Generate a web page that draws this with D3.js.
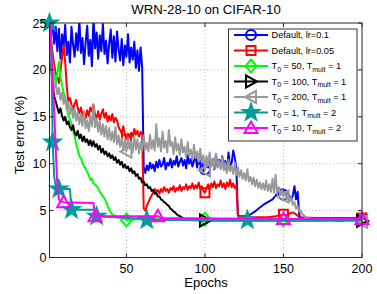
<!DOCTYPE html>
<html>
<head>
<style>
  body { margin: 0; background: #fff; }
  svg { display: block; font-family: "Liberation Sans", Arial, sans-serif; }
</style>
</head>
<body>
<svg id="svg" width="377" height="294"></svg>
<script src="https://d3js.org/d3.v7.min.js"></script>
<script>
// ---- data: [epoch, test error %] ----
const blueLr01 = [[1,25],[2,23.5],[3,25.5],[4,22.8],[5,24.6],[6,22],[7,24.4],[8,21.2],[9,23.8],[10,22.5],
  [11,24.8],[12,21.6],[13,23],[14,20.8],[15,24.6],[16,22.7],[17,21.4],[18,23.9],[19,22.1],[20,25.4],
  [21,21.8],[22,23.4],[23,20.6],[24,22.9],[25,24.7],[26,21.5],[27,23.2],[28,20.4],[29,25.6],[30,22.3],
  [31,24],[32,21.2],[33,23.7],[34,22],[35,24.9],[36,21.7],[37,23.1],[38,20.7],[39,22.8],[40,24.3],
  [41,21.3],[42,23.6],[43,20.9],[44,24.1],[45,22.2],[46,21],[47,23.3],[48,20.5],[49,22.6],[50,21.4],
  [51,23.8],[52,20.8],[53,22.4],[54,21.1],[55,23],[56,20.2],[57,22.1],[58,19.9],[59,22.4],[60,20.3],
  [61,9.6],[62,9.0],[63,9.8],[64,9.3],[65,10.1],[66,9.5],[67,9.9],[68,9.2],[69,10.2],[70,9.6],
  [71,10.4],[72,9.7],[73,9.9],[74,10.6],[75,9.4],[76,10.1],[77,9.8],[78,10.5],[79,9.6],[80,10.3],
  [81,9.9],[82,10.8],[83,9.7],[84,10.2],[85,10.6],[86,9.8],[87,10.4],[88,9.5],[89,10.9],[90,10.0],
  [91,10.5],[92,9.7],[93,10.3],[94,10.8],[95,9.6],[96,10.4],[97,9.9],[98,10.6],[99,9.2],[100,9.4],
  [101,10.2],[102,9.6],[103,10.7],[104,9.8],[105,10.5],[106,9.4],[107,11.0],[108,9.7],[109,10.4],[110,9.9],
  [111,10.8],[112,9.5],[113,10.3],[114,9.1],[115,11.2],[116,9.6],[117,10.1],[118,11.4],[119,10.6],[120,9.5],
  [121,4.5],[122,4.4],[125,4.4],[128,4.5],[131,4.8],[134,5.2],[137,5.6],[140,5.9],[143,6.2],[145,6.6],
  [147,7.1],[149,7.3],[150,6.7],[151,7.0],[152,6.4],[153,6.8],[154,6.5],[155,6.1],[156,6.7],[157,7.6],
  [158,6.2],[159,7.0],[160,4.6],[161,4.2],[165,4.1],[170,4.2],[175,4.1],[180,4.1],[185,4.2],[190,4.1],
  [195,4.1],[200,4.1]]
const redLr005 = [[1,25],[2,23.2],[3,21.8],[4,20.5],[5,19.6],[6,19.2],[7,18.6],[8,19.8],[9,21.4],[10,22.6],
  [11,20.8],[12,18.2],[13,16.6],[14,17.0],[15,16.3],[16,15.8],[17,16.4],[18,16.8],[19,15.9],[20,15.4],
  [21,16.0],[22,15.2],[23,15.5],[24,14.8],[25,15.7],[26,15.1],[27,16.0],[28,15.6],[29,16.3],[30,15.2],
  [31,14.9],[32,15.6],[33,14.7],[34,15.3],[35,15.8],[36,14.9],[37,15.4],[38,14.5],[39,15.1],[40,14.6],
  [41,15.3],[42,14.4],[43,14.9],[44,14.6],[45,13.9],[46,13.6],[47,13.2],[48,14.0],[49,13.1],[50,12.6],
  [51,13.2],[52,12.8],[53,13.3],[54,12.9],[55,13.7],[56,13.1],[57,13.5],[58,12.9],[59,13.4],[60,13.1],
  [61,5.2],[62,5.0],[63,5.5],[64,5.9],[65,6.3],[66,6.6],[67,6.9],[68,7.3],[69,7.0],[70,7.2],
  [71,6.8],[72,7.3],[73,7.0],[74,7.5],[75,7.1],[76,7.3],[77,6.9],[78,7.4],[79,7.2],[80,7.6],
  [81,7.0],[82,7.4],[83,7.2],[84,7.7],[85,7.1],[86,7.5],[87,7.3],[88,7.8],[89,7.2],[90,7.6],
  [91,7.4],[92,7.9],[93,7.3],[94,7.7],[95,7.4],[96,8.0],[97,7.3],[98,7.6],[99,7.1],[100,6.9],
  [101,7.4],[102,7.8],[103,7.3],[104,7.9],[105,7.5],[106,8.1],[107,7.4],[108,7.8],[109,7.6],[110,8.2],
  [111,7.5],[112,7.9],[113,7.3],[114,8.0],[115,7.6],[116,8.3],[117,7.5],[118,7.9],[119,7.4],[120,7.7],
  [121,4.4],[125,4.3],[130,4.3],[135,4.3],[140,4.3],[145,4.4],[150,4.6],[152,4.5],[154,4.7],[156,4.8],
  [158,4.6],[160,4.3],[170,4.2],[180,4.2],[190,4.2],[200,4.2]]
const greenT50 = [[1,25],[2,22.4],[3,20.6],[4,19.4],[5,18.6],[6,19.6],[7,20.9],[8,19.2],[9,18.3],[10,17.6],
  [11,16.8],[12,15.9],[13,15.2],[14,14.7],[15,14.2],[16,13.6],[17,12.9],[18,12.1],[19,11.5],[20,10.8],
  [21,10.6],[22,10.1],[23,9.7],[24,9.5],[25,9.1],[26,8.8],[27,8.3],[28,8.4],[29,7.9],[30,7.8],
  [31,7.6],[32,7.4],[33,7.0],[34,6.8],[35,6.5],[36,6.3],[37,5.9],[38,5.5],[39,5.1],[40,4.8],
  [41,4.6],[42,4.5],[43,4.4],[45,4.3],[48,4.2],[50,4.0],[60,4.1],[80,4.1],[100,4.1],[120,4.1],
  [150,4.0],[170,4.1],[200,4.1]]
const blackT100 = [[1,25],[2,20.5],[3,18.4],[4,17.2],[5,16.6],[6,16.0],[7,15.4],[8,15.9],[9,15.1],[10,14.6],
  [11,15.0],[12,14.2],[13,14.5],[14,13.9],[15,13.6],[16,14.1],[17,13.3],[18,13.0],[19,13.5],[20,12.7],
  [21,13.1],[22,12.4],[23,12.9],[24,12.3],[25,12.6],[26,12.0],[27,12.5],[28,11.9],[29,12.4],[30,11.8],
  [31,12.1],[32,11.5],[33,11.9],[34,11.2],[35,11.6],[36,11.0],[37,11.3],[38,10.8],[39,11.1],[40,10.6],
  [41,10.9],[42,10.4],[43,10.7],[44,10.1],[45,10.4],[46,9.9],[47,10.2],[48,9.6],[49,9.9],[50,9.5],
  [51,9.7],[52,9.2],[53,9.5],[54,9.0],[55,9.2],[56,8.7],[57,8.9],[58,8.4],[59,8.5],[60,8.0],
  [61,8.1],[62,7.7],[63,7.8],[64,7.4],[65,7.5],[66,7.1],[67,7.2],[68,6.8],[69,6.9],[70,6.5],
  [71,6.5],[72,6.2],[73,6.1],[74,5.9],[75,5.8],[76,5.6],[77,5.5],[78,5.2],[79,5.1],[80,4.9],
  [81,4.8],[82,4.6],[83,4.5],[84,4.4],[86,4.2],[88,4.1],[90,4.0],[100,3.95],[120,3.95],[150,3.95],
  [180,3.95],[200,3.9]]
const grayT200 = [[1,25],[2,21],[3,19.2],[4,18.0],[5,18.6],[6,17.4],[7,18.1],[8,16.8],[9,17.6],[10,16.4],
  [11,17.2],[12,15.9],[13,16.6],[14,15.3],[15,16.1],[16,14.9],[17,15.8],[18,14.6],[19,15.5],[20,14.2],
  [21,15.3],[22,14.0],[23,15.6],[24,13.8],[25,14.6],[26,13.5],[27,15.1],[28,14.0],[29,16.3],[30,13.9],
  [31,14.8],[32,13.4],[33,14.5],[34,13.1],[35,14.2],[36,12.9],[37,14.0],[38,12.6],[39,13.8],[40,12.5],
  [41,13.4],[42,12.3],[43,13.9],[44,12.1],[45,13.0],[46,11.8],[47,12.7],[48,11.4],[49,12.6],[50,11.3],
  [51,12.8],[52,11.6],[53,12.4],[54,11.2],[55,12.9],[56,11.5],[57,12.6],[58,11.1],[59,12.3],[60,11.4],
  [61,13.0],[62,11.5],[63,12.2],[64,11.3],[65,13.1],[66,11.6],[67,12.5],[68,11.4],[69,14.2],[70,11.8],
  [71,12.7],[72,11.3],[73,13.4],[74,11.7],[75,12.4],[76,11.2],[77,13.6],[78,11.9],[79,12.3],[80,11.0],
  [81,12.8],[82,11.4],[83,12.1],[84,10.9],[85,12.6],[86,11.2],[87,11.8],[88,10.7],[89,12.3],[90,10.9],
  [91,11.5],[92,10.4],[93,12.0],[94,10.6],[95,11.3],[96,10.2],[97,11.6],[98,10.1],[99,10.9],[100,9.3],
  [101,10.8],[102,9.9],[103,11.2],[104,9.7],[105,10.5],[106,9.5],[107,11.0],[108,9.6],[109,10.3],[110,9.4],
  [111,10.7],[112,9.3],[113,10.1],[114,9.0],[115,10.4],[116,9.2],[117,9.8],[118,8.9],[119,10.1],[120,8.8],
  [121,9.6],[122,8.6],[123,9.3],[124,8.4],[125,9.0],[126,8.2],[127,9.4],[128,8.1],[129,8.6],[130,7.8],
  [131,8.5],[132,7.6],[133,8.3],[134,7.4],[135,8.0],[136,7.3],[137,7.9],[138,7.2],[139,8.2],[140,7.1],
  [141,7.8],[142,7.0],[143,8.4],[144,6.9],[145,8.8],[146,6.8],[147,7.5],[148,6.7],[149,7.2],[150,6.5],
  [151,7.0],[152,6.2],[153,6.8],[154,6.0],[155,6.4],[156,5.6],[157,5.9],[158,5.2],[159,5.5],[160,4.9],
  [161,5.0],[162,4.6],[163,4.5],[164,4.3],[166,4.2],[168,4.1],[170,4.0],[175,4.0],[180,3.9],[185,4.0],
  [190,3.9],[195,3.9],[198,3.8],[200,3.8]]
const tealT1 = [[1,25],[2,24.6],[3,12.3],[4,8.6],[5,7.6],[6,7.3],[7,7.3],[14,7.3],[15,5.1],[30,5.1],
  [31,4.4],[62,4.1],[63,4.0],[127,4.0],[200,4.0]]
const magentaT10 = [[1,25],[2,22.5],[3,19],[4,15.5],[5,11.5],[6,7.5],[7,6.2],[8,6.0],[10,5.9],[29,5.8],
  [30,4.4],[70,4.4],[72,4.2],[150,4.1],[200,4.1]]

// epochs that carry a marker, per series
const blueMarks = [100, 150, 200]
const redMarks = [50, 100, 150, 200]
const greenMarks = [50, 100, 150, 200]
const blackMarks = [100, 200]
const grayMarks = [50, 100, 150, 200]
const tealMarks = [1, 3, 7, 15, 31, 63, 127]
const magentaMarks = [10, 30, 70, 150, 200]

// legend labels, inner arrays are subscripts
const legendLabels = [
  ['Default, lr=0.1'],
  ['Default, lr=0.05'],
  ['T', ['0'], ' = 50, T', ['mult'], ' = 1'],
  ['T', ['0'], ' = 100, T', ['mult'], ' = 1'],
  ['T', ['0'], ' = 200, T', ['mult'], ' = 1'],
  ['T', ['0'], ' = 1, T', ['mult'], ' = 2'],
  ['T', ['0'], ' = 10, T', ['mult'], ' = 2']
]

const xTicks = [50, 100, 150, 200]
const yTicks = [0, 5, 10, 15, 20, 25]

// ---- marker shapes ----
function starPath(R) {
  const r = R * 0.4, pts = []
  for (let i = 0; i < 10; i++) {
    const a = -Math.PI / 2 + i * Math.PI / 5
    const rr = i % 2 ? r : R
    pts.push([(rr * Math.cos(a)).toFixed(2), (rr * Math.sin(a)).toFixed(2)])
  }
  return 'M' + pts.map(p => p.join(',')).join('L') + 'Z'
}
const shapes = {
  circle: 'M5,0A5,5 0 1,1 -5,0A5,5 0 1,1 5,0Z',
  square: 'M-4.5,-4.5H4.5V4.5H-4.5Z',
  diamond: 'M0,-6.5L5.5,0L0,6.5L-5.5,0Z',
  right: 'M-5,-6L6,0L-5,6Z',
  left: 'M5,-6L-6,0L5,6Z',
  star: starPath(8.5),
  up: 'M0,-6.5L6.5,5L-6.5,5Z'
}

const series = [
  { data: blueLr01, marks: blueMarks, color: '#0000ff', shape: 'circle' },
  { data: redLr005, marks: redMarks, color: '#ff0000', shape: 'square' },
  { data: greenT50, marks: greenMarks, color: '#00ff00', shape: 'diamond' },
  { data: blackT100, marks: blackMarks, color: '#000000', shape: 'right' },
  { data: grayT200, marks: grayMarks, color: '#999999', shape: 'left' },
  { data: tealT1, marks: tealMarks, color: '#009b9b', shape: 'star', fill: true },
  { data: magentaT10, marks: magentaMarks, color: '#ff00ff', shape: 'up' }
]

// ---- layout ----
const plotL = 49.5, plotR = 362, plotT = 23, plotB = 257.5

const x = d3.scaleLinear().domain([1, 200]).range([plotL, plotR])
const y = d3.scaleLinear().domain([0, 25]).range([plotB, plotT])

const svg = d3.select('#svg')
svg.append('rect').attr('width', 377).attr('height', 294).attr('fill', '#fff')

svg.append('clipPath').attr('id', 'plot')
  .append('rect')
  .attr('x', plotL).attr('y', plotT)
  .attr('width', plotR - plotL).attr('height', plotB - plotT)

// grid
const grid = svg.append('g')
  .attr('stroke', '#a0a0a0')
  .attr('stroke-width', 0.8)
  .attr('stroke-dasharray', '1,2.5')
grid.selectAll('.gx').data(xTicks.filter(t => t < 200)).enter().append('line')
  .attr('x1', d => x(d)).attr('x2', d => x(d))
  .attr('y1', plotT).attr('y2', plotB)
grid.selectAll('.gy').data(yTicks.filter(t => t > 0 && t < 25)).enter().append('line')
  .attr('y1', d => y(d)).attr('y2', d => y(d))
  .attr('x1', plotL).attr('x2', plotR)

// series
const line = d3.line().x(d => x(d[0])).y(d => y(d[1]))

series.forEach(s => {
  svg.append('path')
    .datum(s.data)
    .attr('clip-path', 'url(#plot)')
    .attr('d', line)
    .attr('fill', 'none')
    .attr('stroke', s.color)
    .attr('stroke-width', 2)
    .attr('stroke-linejoin', 'round')

  const pts = s.marks.map(e => s.data.find(d => d[0] === e))
  svg.append('g')
    .selectAll('path')
    .data(pts)
    .enter()
    .append('path')
    .attr('transform', d => `translate(${x(d[0])}, ${y(d[1])})`)
    .attr('d', shapes[s.shape])
    .attr('fill', s.fill ? s.color : 'none')
    .attr('stroke', s.color)
    .attr('stroke-width', 2)
})

// box + inward ticks
const axes = svg.append('g').attr('stroke', '#262626').attr('stroke-width', 1)
axes.append('rect')
  .attr('x', plotL).attr('y', plotT)
  .attr('width', plotR - plotL).attr('height', plotB - plotT)
  .attr('fill', 'none')
xTicks.forEach(t => {
  axes.append('line').attr('x1', x(t)).attr('x2', x(t)).attr('y1', plotB).attr('y2', plotB - 4)
  axes.append('line').attr('x1', x(t)).attr('x2', x(t)).attr('y1', plotT).attr('y2', plotT + 4)
})
yTicks.forEach(t => {
  axes.append('line').attr('y1', y(t)).attr('y2', y(t)).attr('x1', plotL).attr('x2', plotL + 4)
  axes.append('line').attr('y1', y(t)).attr('y2', y(t)).attr('x1', plotR).attr('x2', plotR - 4)
})

// tick labels
svg.append('g').selectAll('text').data(xTicks).enter().append('text')
  .attr('x', d => x(d)).attr('y', 273)
  .attr('text-anchor', 'middle')
  .attr('font-size', 12.5)
  .text(d => d)
svg.append('g').selectAll('text').data(yTicks).enter().append('text')
  .attr('x', 46.5).attr('y', d => y(d))
  .attr('dy', '0.36em')
  .attr('text-anchor', 'end')
  .attr('font-size', 12.5)
  .text(d => d)

// titles
svg.append('text')
  .attr('x', 206).attr('y', 14)
  .attr('text-anchor', 'middle')
  .attr('font-size', 13.2)
  .text('WRN-28-10 on CIFAR-10')
svg.append('text')
  .attr('x', 206).attr('y', 287)
  .attr('text-anchor', 'middle')
  .attr('font-size', 13)
  .text('Epochs')
svg.append('text')
  .attr('transform', 'translate(23.5, 135) rotate(-90)')
  .attr('text-anchor', 'middle')
  .attr('font-size', 13)
  .text('Test error (%)')

// legend
const legend = svg.append('g')
legend.append('rect')
  .attr('x', 228.5).attr('y', 29)
  .attr('width', 128.5).attr('height', 112)
  .attr('fill', '#fff')
  .attr('stroke', '#333')
  .attr('stroke-width', 1)

series.forEach((s, i) => {
  const ly = 35 + i * 15.5
  const row = legend.append('g')
  row.append('line')
    .attr('x1', 234).attr('x2', 268)
    .attr('y1', ly).attr('y2', ly)
    .attr('stroke', s.color).attr('stroke-width', 2)
  row.append('path')
    .attr('transform', `translate(251, ${ly})`)
    .attr('d', shapes[s.shape])
    .attr('fill', s.fill ? s.color : 'none')
    .attr('stroke', s.color)
    .attr('stroke-width', 2)
  const txt = row.append('text')
    .attr('x', 271.5).attr('y', ly + 3)
    .attr('font-size', 9.2)
  let sub = false
  legendLabels[i].forEach(part => {
    const isSub = Array.isArray(part)
    const ts = txt.append('tspan').text(isSub ? part[0] : part)
    if (isSub) ts.attr('font-size', 7).attr('dy', 2.6)
    else if (sub) ts.attr('dy', -2.6)
    sub = isSub
  })
})
</script>
</body>
</html>
